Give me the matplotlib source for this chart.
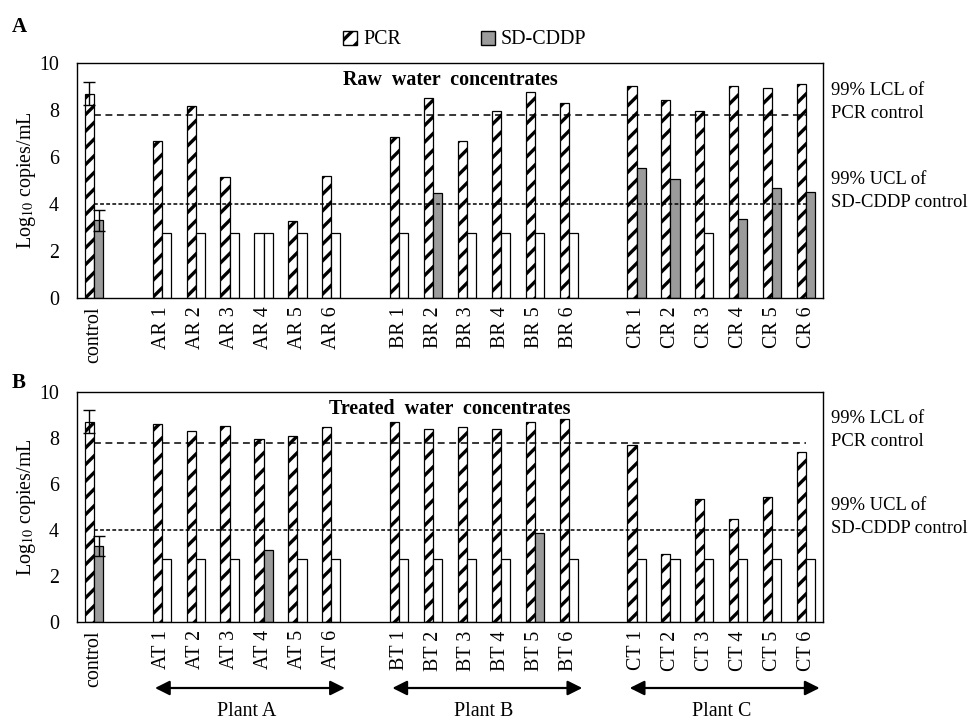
import matplotlib
matplotlib.use('Agg')
import matplotlib.pyplot as plt
import matplotlib.transforms as mtransforms
from matplotlib.patches import Patch

plt.rcParams['font.family'] = ['Liberation Serif', 'DejaVu Serif']
plt.rcParams['mathtext.fontset'] = 'stix'
plt.rcParams['hatch.linewidth'] = 2.4

FS = 14.4
LOD = 2.75  # non-detects are plotted at the detection limit, unfilled

raw_labels = ['control', 'AR 1', 'AR 2', 'AR 3', 'AR 4', 'AR 5', 'AR 6',
              'BR 1', 'BR 2', 'BR 3', 'BR 4', 'BR 5', 'BR 6',
              'CR 1', 'CR 2', 'CR 3', 'CR 4', 'CR 5', 'CR 6']
treated_labels = ['control', 'AT 1', 'AT 2', 'AT 3', 'AT 4', 'AT 5', 'AT 6',
                  'BT 1', 'BT 2', 'BT 3', 'BT 4', 'BT 5', 'BT 6',
                  'CT 1', 'CT 2', 'CT 3', 'CT 4', 'CT 5', 'CT 6']

pcr_raw = [8.7, 6.7, 8.15, 5.13, 2.75, 3.28, 5.2,
           6.84, 8.5, 6.7, 7.97, 8.78, 8.28,
           9.02, 8.43, 7.97, 9.02, 8.92, 9.1]
sd_raw = [3.3, 2.75, 2.75, 2.75, 2.75, 2.75, 2.75,
          2.75, 4.45, 2.75, 2.75, 2.75, 2.75,
          5.52, 5.06, 2.75, 3.35, 4.69, 4.52]

pcr_treated = [8.7, 8.61, 8.3, 8.54, 7.94, 8.09, 8.46,
               8.68, 8.38, 8.5, 8.4, 8.7, 8.83,
               7.7, 2.96, 5.35, 4.5, 5.42, 7.38]
sd_treated = [3.3, 2.75, 2.75, 2.75, 3.13, 2.75, 2.75,
              2.75, 2.75, 2.75, 2.75, 3.85, 2.75,
              2.75, 2.75, 2.75, 2.75, 2.75, 2.75]

pcr_ctrl_err = 0.5
sd_ctrl_err = 0.45
pcr_lcl = 7.8   # 99% LCL of PCR control
sd_ucl = 4.0    # 99% UCL of SD-CDDP control

plants = ['Plant A', 'Plant B', 'Plant C']

# control sits in slot 0, each plant gets 6 slots with one empty slot between groups
slots = [0] + list(range(2, 8)) + list(range(9, 15)) + list(range(16, 22))
W = 0.27
GRAY = '#9b9b9b'


def draw_panel(ax, labels, pcr, sd, title):
    for i, x in enumerate(slots):
        p = pcr[i]
        s = sd[i]
        ax.bar(x - W / 2, p, W, color='white', edgecolor='black', linewidth=0.9,
               hatch='//' if p > LOD else None, zorder=2)
        ax.bar(x + W / 2, s, W, color=GRAY if s > LOD else 'white',
               edgecolor='black', linewidth=0.9, zorder=2)
    ax.errorbar([slots[0] - W / 2], [pcr[0]], yerr=pcr_ctrl_err, fmt='none',
                ecolor='black', elinewidth=1, capsize=4, capthick=1, zorder=3)
    ax.errorbar([slots[0] + W / 2], [sd[0]], yerr=sd_ctrl_err, fmt='none',
                ecolor='black', elinewidth=1, capsize=4, capthick=1, zorder=3)

    ax.plot([slots[0], slots[-1]], [pcr_lcl, pcr_lcl], color='black', lw=1.1,
            linestyle=(0, (4.5, 3)), zorder=4)
    ax.plot([slots[0], slots[-1]], [sd_ucl, sd_ucl], color='black', lw=1.1,
            linestyle=(0, (2.5, 1.5)), zorder=4)

    ax.set_xlim(-0.5, 21.5)
    ax.set_ylim(0, 10)
    ax.set_yticks(range(0, 11, 2))
    ax.set_xticks(slots)
    ax.set_xticklabels(labels, rotation=90, fontsize=FS, va='top')
    ax.tick_params(axis='y', length=0, pad=13, labelsize=FS)
    ax.tick_params(axis='x', length=0, pad=6)
    for sp in ax.spines.values():
        sp.set_linewidth(1)
    ax.set_ylabel('Log$_{10}$ copies/mL', fontsize=FS, labelpad=1)
    ax.text(0.5, 0.97, title, transform=ax.transAxes, ha='center', va='top',
            fontsize=FS, fontweight='bold')

    # limit annotations to the right of the panel
    trans = mtransforms.blended_transform_factory(ax.transAxes, ax.transData)
    ax.text(1.011, pcr_lcl + 0.55, '99% LCL of\nPCR control', transform=trans,
            ha='left', va='center', fontsize=13.4, linespacing=1.45)
    ax.text(1.011, sd_ucl + 0.55, '99% UCL of\nSD-CDDP control', transform=trans,
            ha='left', va='center', fontsize=13.4, linespacing=1.45)


fig = plt.figure(figsize=(9.76, 7.2), dpi=100)
ax_a = fig.add_axes([77 / 976, 1 - 298 / 720, 746 / 976, 235 / 720])
ax_b = fig.add_axes([77 / 976, 1 - 622 / 720, 746 / 976, 230 / 720])

draw_panel(ax_a, raw_labels, pcr_raw, sd_raw, 'Raw  water  concentrates')
draw_panel(ax_b, treated_labels, pcr_treated, sd_treated, 'Treated  water  concentrates')

fig.text(12 / 976, 1 - 27 / 720, 'A', fontsize=15, fontweight='bold', va='center')
fig.text(12 / 976, 1 - 383 / 720, 'B', fontsize=15, fontweight='bold', va='center')

handles = [Patch(facecolor='white', edgecolor='black', hatch='//', label='PCR'),
           Patch(facecolor=GRAY, edgecolor='black', label='SD-CDDP')]
fig.legend(handles=handles, loc='center', bbox_to_anchor=(0.476, 1 - 40 / 720),
           ncol=2, frameon=False, fontsize=FS, handlelength=0.7, handleheight=0.7,
           handletextpad=0.3, columnspacing=4.0)

# plant brackets below the treated panel
trans_b = mtransforms.blended_transform_factory(ax_b.transData, fig.transFigure)
groups = [slots[1:7], slots[7:13], slots[13:19]]
for name, grp in zip(plants, groups):
    ax_b.annotate('', xy=(grp[0] - 0.2, 1 - 688 / 720), xytext=(grp[-1] + 0.4, 1 - 688 / 720),
                  xycoords=trans_b, textcoords=trans_b,
                  arrowprops=dict(arrowstyle='<|-|>', color='black', lw=1.6,
                                  mutation_scale=22, shrinkA=0, shrinkB=0),
                  annotation_clip=False)
    ax_b.text((grp[0] + grp[-1]) / 2, 1 - 712 / 720, name, transform=trans_b,
              ha='center', va='center', fontsize=FS)

fig.savefig('out.png', dpi=100)
